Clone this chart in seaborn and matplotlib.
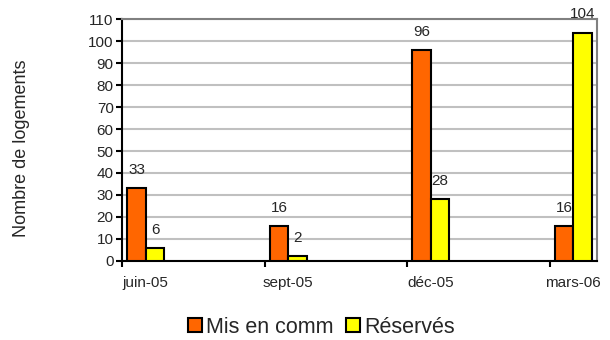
import matplotlib
matplotlib.use("Agg")
import matplotlib.pyplot as plt
import seaborn as sns
import pandas as pd

# -----------------------------
# Data
# -----------------------------
# monthly slots of the date axis (juin-05 .. mars-06)
slots = ["juin-05", "juil-05", "août-05", "sept-05", "oct-05", "nov-05",
         "déc-05", "janv-06", "févr-06", "mars-06"]
periods = ["juin-05", "sept-05", "déc-05", "mars-06"]
mis_en_comm = [33, 16, 96, 16]
reserves = [6, 2, 28, 104]
series = ["Mis en comm", "Réservés"]
colors = ["#FF6600", "#FFFF00"]

df = pd.DataFrame({
    "periode": periods * 2,
    "serie": [series[0]] * len(periods) + [series[1]] * len(periods),
    "valeur": mis_en_comm + reserves,
})

# -----------------------------
# Plot
# -----------------------------
sns.set_style("white")
plt.rcParams["font.family"] = ["Liberation Sans", "DejaVu Sans"]

fig = plt.figure(figsize=(6.1, 3.4), dpi=100)
ax = fig.add_axes([0.2, 0.233, 0.7787, 0.71])

sns.barplot(data=df, x="periode", y="valeur", hue="serie",
            order=slots, hue_order=series, palette=colors,
            width=0.78, edgecolor="black", linewidth=1.5,
            saturation=1, ax=ax, legend=True, zorder=3)

# value labels sit under the bars (the mars-06 "16" is partly hidden)
for cont in ax.containers:
    labels = ax.bar_label(cont, padding=8, fontsize=11)
    for t in labels:
        t.set_zorder(2)

ax.set_xlim(-0.5, len(slots) - 0.5)
ax.set_ylim(0, 110)
ax.set_yticks(range(0, 111, 10))
ax.yaxis.grid(True, color="#c0c0c0", linewidth=1.5, zorder=0)
ax.set_axisbelow(True)

# ticks on quarter boundaries, labels at the slot centres
ax.set_xticks([-0.5, 2.5, 5.5, 8.5])
ax.set_xticklabels([])
ax.set_xticks([slots.index(p) for p in periods], minor=True)
ax.set_xticklabels(periods, minor=True, fontsize=11)
ax.tick_params(axis="x", which="major", direction="out", length=4,
               width=1.5, color="black", bottom=True)
ax.tick_params(axis="x", which="minor", length=0, pad=11)
ax.tick_params(axis="y", direction="out", length=4, width=1.5,
               color="black", left=True, labelsize=11, pad=2)

ax.set_xlabel("")
ax.set_ylabel("Nombre de logements", fontsize=13)
ax.yaxis.set_label_coords(-0.194, 0.467)

for side in ["top", "right"]:
    ax.spines[side].set_color("#808080")
    ax.spines[side].set_linewidth(1.5)
for side in ["left", "bottom"]:
    ax.spines[side].set_color("black")
    ax.spines[side].set_linewidth(1.5)

leg = ax.legend(loc="center", bbox_to_anchor=(0.42, -0.275), ncol=2,
                frameon=False, fontsize=15.5, handlelength=0.65,
                handleheight=0.65, handletextpad=0.2, columnspacing=0.6,
                borderpad=0)
for h in leg.legend_handles:
    h.set_edgecolor("black")
    h.set_linewidth(1.5)

plt.savefig("out.png", dpi=100)
